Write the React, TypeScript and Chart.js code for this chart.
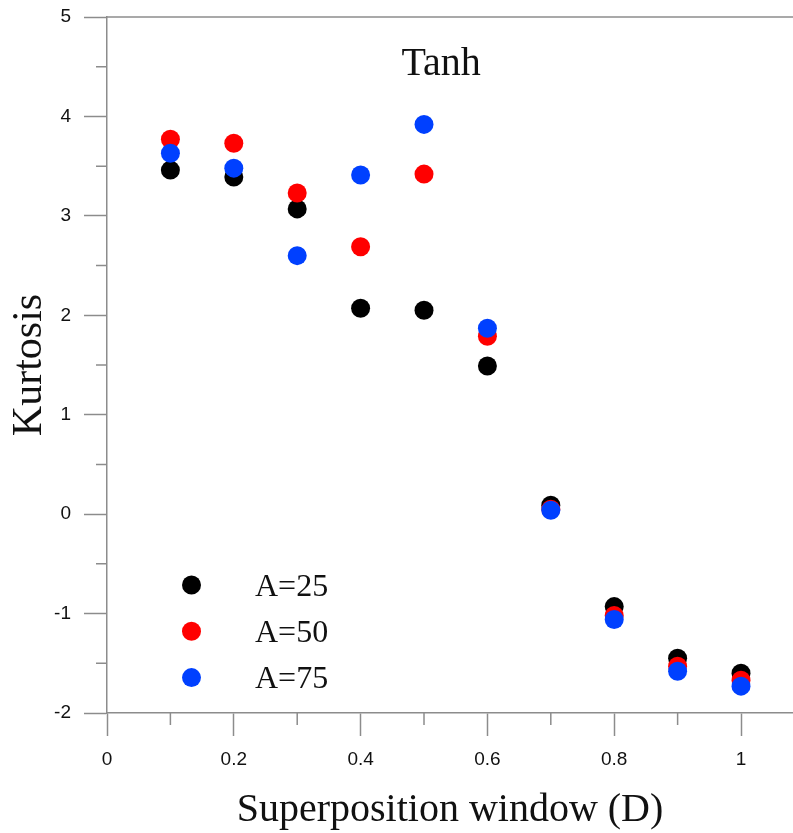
import React, { useEffect, useRef } from 'react';
import { Chart, registerables } from 'chart.js';

Chart.register(...registerables);

// ---- data ----
const windowD = [0.1, 0.2, 0.3, 0.4, 0.5, 0.6, 0.7, 0.8, 0.9, 1.0];
const kurtA25 = [3.46, 3.39, 3.07, 2.07, 2.05, 1.49, 0.09, -0.93, -1.45, -1.6];
const kurtA50 = [3.77, 3.73, 3.23, 2.69, 3.42, 1.79, 0.05, -1.02, -1.53, -1.67];
const kurtA75 = [3.63, 3.48, 2.6, 3.41, 3.92, 1.87, 0.04, -1.06, -1.58, -1.73];
const seriesLabels = ['A=25', 'A=50', 'A=75'];
const seriesColors = ['#000000', '#ff0000', '#0040ff'];
const xTickLabels = ['0', '0.2', '0.4', '0.6', '0.8', '1'];
const yTickLabels = ['-2', '-1', '0', '1', '2', '3', '4', '5'];
const chartTitle = 'Tanh';
const xTitle = 'Superposition window (D)';
const yTitle = 'Kurtosis';

const AXIS_COLOR = '#8c8c8c';
const TEXT_COLOR = '#111111';
const SERIF = '"Liberation Serif", "Times New Roman", serif';
const SANS = '"Liberation Sans", Arial, sans-serif';

const isMinorX = (v: number) => Math.round(v * 10) % 2 !== 0;
const isMinorY = (v: number) => Math.abs(Math.round(v * 2)) % 2 !== 0;

const decorPlugin = {
  id: 'decor',
  afterDraw(chart: any) {
    const { ctx, chartArea: ca, scales } = chart;
    const xs = scales.x;
    const ys = scales.y;
    ctx.save();
    ctx.strokeStyle = AXIS_COLOR;
    ctx.lineWidth = 1.5;
    // top frame line
    ctx.beginPath();
    ctx.moveTo(ca.left, ca.top);
    ctx.lineTo(ca.right, ca.top);
    ctx.stroke();
    // minor ticks
    ctx.beginPath();
    xs.ticks.forEach((t: any, i: number) => {
      if (isMinorX(t.value)) {
        const px = xs.getPixelForTick(i);
        ctx.moveTo(px, ca.bottom);
        ctx.lineTo(px, ca.bottom + 12);
      }
    });
    ys.ticks.forEach((t: any, i: number) => {
      if (isMinorY(t.value)) {
        const py = ys.getPixelForTick(i);
        ctx.moveTo(ca.left - 11, py);
        ctx.lineTo(ca.left, py);
      }
    });
    ctx.stroke();

    // inner title
    ctx.fillStyle = TEXT_COLOR;
    ctx.font = `40px ${SERIF}`;
    ctx.textAlign = 'center';
    ctx.textBaseline = 'alphabetic';
    ctx.fillText(chartTitle, xs.getPixelForValue(0.527), ys.getPixelForValue(4.42));

    // legend
    chart.data.datasets.forEach((ds: any, i: number) => {
      const cy = ca.bottom - 128 + i * 46.3;
      const cx = ca.left + 84.5;
      ctx.beginPath();
      ctx.fillStyle = ds.backgroundColor;
      ctx.arc(cx, cy, 9.5, 0, Math.PI * 2);
      ctx.fill();
      ctx.fillStyle = TEXT_COLOR;
      ctx.font = `32px ${SERIF}`;
      ctx.textAlign = 'left';
      ctx.textBaseline = 'alphabetic';
      ctx.fillText(ds.label, ca.left + 148, cy + 10.5);
    });
    ctx.restore();
  },
};

export default function App() {
  const canvasRef = useRef<HTMLCanvasElement | null>(null);

  useEffect(() => {
    if (!canvasRef.current) return;
    const series = [kurtA25, kurtA50, kurtA75];
    const chart = new Chart(canvasRef.current, {
      type: 'scatter',
      data: {
        datasets: series.map((vals, i) => ({
          label: seriesLabels[i],
          data: windowD.map((x, j) => ({ x, y: vals[j] })),
          backgroundColor: seriesColors[i],
          borderColor: seriesColors[i],
          pointRadius: 9.5,
          pointHoverRadius: 9.5,
          pointBorderWidth: 0,
          showLine: false,
          clip: false,
          order: 3 - i,
        })),
      },
      options: {
        animation: false,
        responsive: false,
        devicePixelRatio: 1,
        layout: { autoPadding: false, padding: { top: 17, left: 0, right: 0, bottom: 0 } },
        plugins: {
          legend: { display: false },
          tooltip: { enabled: false },
        },
        scales: {
          x: {
            type: 'linear',
            min: 0,
            max: 1.082,
            afterFit: (s: any) => {
              s.height = 120;
              s.paddingLeft = 0;
              s.paddingRight = 0;
            },
            ticks: {
              stepSize: 0.1,
              includeBounds: false,
              autoSkip: false,
              maxRotation: 0,
              padding: 12,
              color: TEXT_COLOR,
              font: { family: SANS, size: 19 },
              callback: (v: any) => {
                const k = Math.round(Number(v) * 10);
                return k % 2 === 0 ? xTickLabels[k / 2] ?? '' : '';
              },
            },
            grid: {
              display: true,
              drawOnChartArea: false,
              drawTicks: true,
              tickLength: 23,
              tickWidth: 1.5,
              tickColor: (c: any) => (c.tick && isMinorX(c.tick.value) ? 'rgba(0,0,0,0)' : AXIS_COLOR),
            },
            border: { display: true, color: AXIS_COLOR, width: 1.5 },
            title: {
              display: true,
              text: xTitle,
              color: TEXT_COLOR,
              font: { family: SERIF, size: 40, lineHeight: 1.15 },
              padding: { top: 0, bottom: 0 },
            },
          },
          y: {
            type: 'linear',
            min: -2,
            max: 5,
            afterFit: (s: any) => {
              s.width = 107;
              s.paddingTop = 0;
              s.paddingBottom = 0;
            },
            ticks: {
              stepSize: 0.5,
              autoSkip: false,
              padding: 13,
              color: TEXT_COLOR,
              font: { family: SANS, size: 19 },
              callback: (v: any) => {
                const n = Number(v);
                if (isMinorY(n)) return '';
                const idx = Math.round(n) + 2;
                return yTickLabels[idx] ?? '';
              },
            },
            grid: {
              display: true,
              drawOnChartArea: false,
              drawTicks: true,
              tickLength: 23,
              tickWidth: 1.5,
              tickColor: (c: any) => (c.tick && isMinorY(c.tick.value) ? 'rgba(0,0,0,0)' : AXIS_COLOR),
            },
            border: { display: true, color: AXIS_COLOR, width: 1.5 },
            title: {
              display: true,
              text: yTitle,
              color: TEXT_COLOR,
              font: { family: SERIF, size: 42, lineHeight: 1.2 },
              padding: { top: 5, bottom: 0 },
            },
          },
        },
      },
      plugins: [decorPlugin],
    } as any);
    return () => chart.destroy();
  }, []);

  return (
    <div style={{ position: 'absolute', left: 0, top: 0, width: 793, height: 833, background: '#ffffff' }}>
      <canvas ref={canvasRef} width={793} height={833} style={{ display: 'block' }} />
    </div>
  );
}
